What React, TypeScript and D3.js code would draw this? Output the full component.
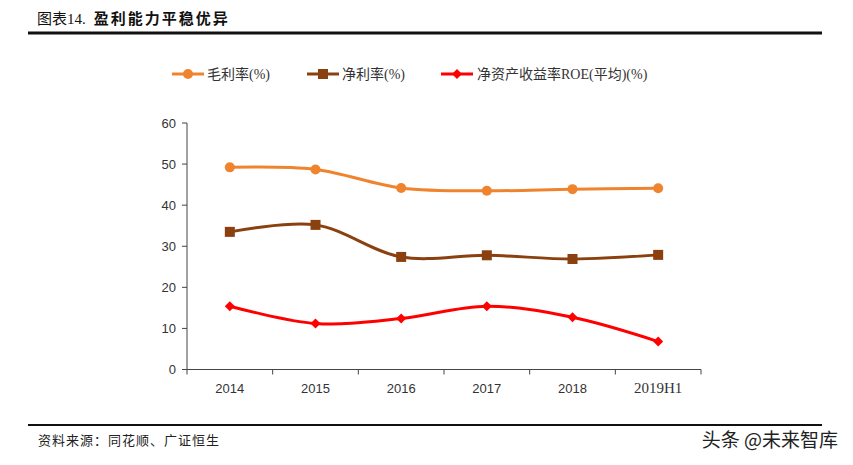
import React from "react";
import * as d3 from "d3";

const categories = ["2014", "2015", "2016", "2017", "2018", "2019H1"];
const grossMargin = [49.2, 48.7, 44.2, 43.5, 43.9, 44.1];
const netMargin = [33.5, 35.2, 27.4, 27.8, 26.9, 27.9];
const roe = [15.4, 11.2, 12.4, 15.4, 12.7, 6.8];
const yTicks = [0, 10, 20, 30, 40, 50, 60];
const seriesNames = ["毛利率(%)", "净利率(%)", "净资产收益率ROE(平均)(%)"];
const seriesColors = ["#F0842E", "#8B410F", "#FF0000"];

const W = 853;
const H = 465;
const plot = { left: 187, right: 701, top: 123, bottom: 369.5 };

function Marker({ kind, x, y, color }: { kind: number; x: number; y: number; color: string }) {
  if (kind === 0) return <circle cx={x} cy={y} r={5} fill={color} />;
  if (kind === 1) return <rect x={x - 5} y={y - 5} width={10} height={10} fill={color} />;
  return <path d={`M${x},${y - 5}L${x + 5},${y}L${x},${y + 5}L${x - 5},${y}Z`} fill={color} />;
}

export default function App() {
  const x = d3.scaleBand<string>().domain(categories).range([plot.left, plot.right]);
  const y = d3.scaleLinear().domain([0, 60]).range([plot.bottom, plot.top]);
  const cx = (c: string) => (x(c) as number) + x.bandwidth() / 2;
  const line = d3
    .line<number>()
    .x((_, i) => cx(categories[i]))
    .y((v) => y(v))
    .curve(d3.curveCatmullRom.alpha(0.5));
  const series = [grossMargin, netMargin, roe];

  const legend = [
    { lx: 172, tx: 207 },
    { lx: 307, tx: 342 },
    { lx: 441, tx: 477 },
  ];
  const xBoundaries = [...categories.map((c) => x(c) as number), plot.right];

  return (
    <svg width={W} height={H} style={{ position: "absolute", left: 0, top: 0, background: "#fff" }}>
      {/* title */}
      <text x={37} y={24} fontFamily="'Noto Sans CJK SC'" fontSize={15} fill="#111">
        <tspan>图表</tspan>
        <tspan fontFamily="'Liberation Serif'">14.</tspan>
        <tspan dx={8} fontWeight="bold" letterSpacing={2}>盈利能力平稳优异</tspan>
      </text>
      <line x1={28} x2={822} y1={33} y2={33} stroke="#111" strokeWidth={3} />

      {/* legend */}
      {legend.map((l, i) => (
        <g key={i}>
          <line x1={l.lx} x2={l.lx + 32} y1={74} y2={74} stroke={seriesColors[i]} strokeWidth={3} />
          <Marker kind={i} x={l.lx + 16} y={74} color={seriesColors[i]} />
          <text x={l.tx} y={79} fontSize={14} fill="#333" fontFamily="'Liberation Serif', 'Noto Sans CJK SC'">
            {seriesNames[i]}
          </text>
        </g>
      ))}

      {/* y axis */}
      <line x1={plot.left} x2={plot.left} y1={plot.top} y2={plot.bottom} stroke="#444" strokeWidth={1} />
      {yTicks.map((t) => (
        <g key={t}>
          <line x1={plot.left - 5} x2={plot.left} y1={y(t)} y2={y(t)} stroke="#444" />
          <text x={plot.left - 11} y={y(t) + 4.5} textAnchor="end" fontSize={13} fill="#333" fontFamily="'Liberation Sans'">
            {t}
          </text>
        </g>
      ))}

      {/* x axis */}
      <line x1={plot.left} x2={plot.right} y1={plot.bottom} y2={plot.bottom} stroke="#444" strokeWidth={1} />
      {xBoundaries.map((b, i) => (
        <line key={i} x1={b} x2={b} y1={plot.bottom} y2={plot.bottom + 5} stroke="#444" />
      ))}
      {categories.map((c) => (
        <text
          key={c}
          x={cx(c)}
          y={393}
          textAnchor="middle"
          fontSize={c.includes("H") ? 15 : 13}
          fill="#333"
          fontFamily={c.includes("H") ? "'Liberation Serif'" : "'Liberation Sans'"}
        >
          {c}
        </text>
      ))}

      {/* series */}
      {series.map((s, i) => (
        <g key={i}>
          <path d={line(s) as string} fill="none" stroke={seriesColors[i]} strokeWidth={3} />
          {s.map((v, j) => (
            <Marker key={j} kind={i} x={cx(categories[j])} y={y(v)} color={seriesColors[i]} />
          ))}
        </g>
      ))}

      {/* footer */}
      <line x1={28} x2={822} y1={425} y2={425} stroke="#111" strokeWidth={2} />
      <text x={38} y={445} fontSize={13} fill="#222" fontFamily="'Noto Sans CJK SC'" letterSpacing={1}>
        资料来源：同花顺、广证恒生
      </text>
      <text x={838} y={447} textAnchor="end" fontSize={19} fill="#222" fontFamily="'Noto Sans CJK SC'">
        头条 @未来智库
      </text>
    </svg>
  );
}
